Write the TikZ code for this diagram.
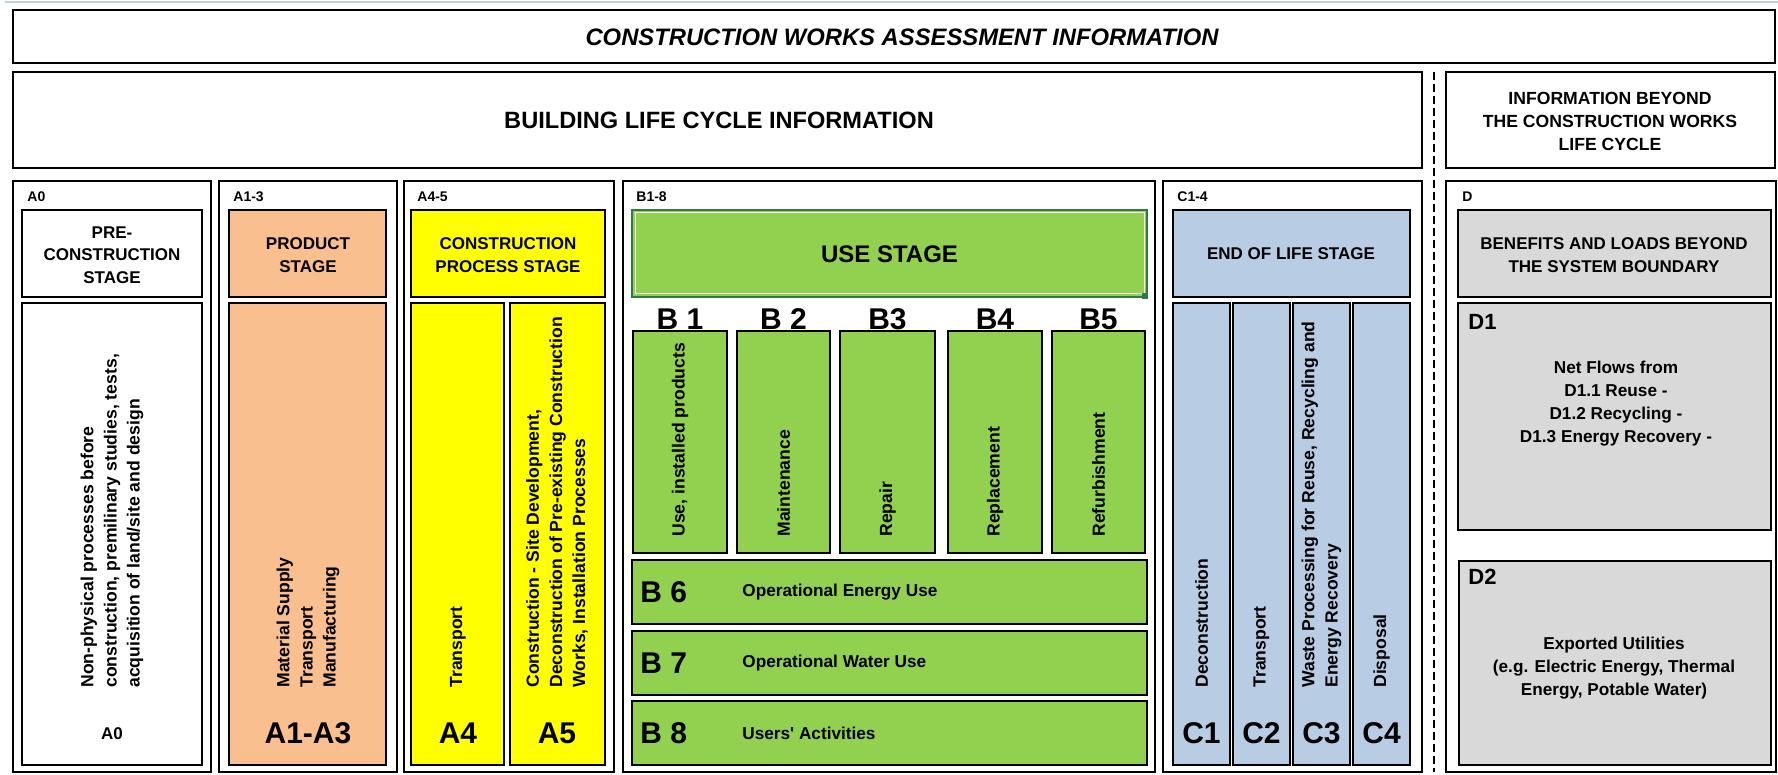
\documentclass[tikz,border=0pt]{standalone}
\usepackage{fontspec}
\setmainfont{Liberation Sans}
\definecolor{prodorange}{HTML}{FABF8F}
\definecolor{conyellow}{HTML}{FFFF00}
\definecolor{usegreen}{HTML}{92D050}
\definecolor{selgreen}{HTML}{2F7A4A}
\definecolor{eolblue}{HTML}{B8CCE4}
\definecolor{beyondgrey}{HTML}{D9D9D9}
\definecolor{topline}{HTML}{C5CEDD}
\tikzset{
  frame/.style={draw=black, line width=1pt},
  tag/.style={anchor=west, inner sep=0pt, font=\bfseries\fontsize{7}{8}\selectfont},
  head/.style={align=center, inner sep=0pt, font=\bfseries\fontsize{8.5}{11.25}\selectfont},
  vtext/.style={rotate=90, anchor=west, align=left, inner sep=0pt, font=\bfseries\fontsize{8.8}{11.6}\selectfont},
  code/.style={inner sep=0pt, font=\bfseries\fontsize{15}{18}\selectfont},
  body/.style={align=center, inner sep=0pt, font=\bfseries\fontsize{8.6}{11.5}\selectfont}
}
\begin{document}
\begin{tikzpicture}[x=0.5pt, y=-0.5pt]
  \useasboundingbox (0,0) rectangle (1778,775);
  \draw[topline, line width=1pt] (5,2) -- (1778,2);
  % outer frames
  \draw[frame] (13,10) rectangle (1775,63);
  \node[inner sep=0pt, font=\bfseries\itshape\fontsize{11.9}{13}\selectfont] (title) at (902,37) {CONSTRUCTION WORKS ASSESSMENT INFORMATION};
  \draw[frame] (13,72) rectangle (1422,168);
  \node[inner sep=0pt, font=\bfseries\fontsize{11.8}{13}\selectfont] (lifecycle) at (719,120) {BUILDING LIFE CYCLE INFORMATION};
  \draw[frame] (1446,72) rectangle (1775,168);
  \node[head, font=\bfseries\fontsize{8.8}{11.5}\selectfont] (beyond) at (1610,121) {INFORMATION BEYOND\\THE CONSTRUCTION WORKS\\LIFE CYCLE};
  \coordinate (splitTop) at (1434,72);
  \coordinate (splitBot) at (1434,772);
  \draw[dash pattern=on 4pt off 2pt, line width=0.8pt] (splitTop) -- (splitBot);
  \foreach \l/\r in {13/211, 219/397, 404/614, 623/1155, 1163/1422, 1446/1776}
    \draw[frame] (\l,181) rectangle (\r,772);
  \node[tag] (tagA0) at (27,197) {A0};
  \node[tag] (tagA13) at (233,197) {A1-3};
  \node[tag] (tagA45) at (417,197) {A4-5};
  \node[tag] (tagB) at (636,197) {B1-8};
  \node[tag] (tagC) at (1177,197) {C1-4};
  \node[tag] (tagD) at (1462,197) {D};
  % A0
  \filldraw[frame, fill=white] (22,210) rectangle (202,297);
  \node[head] (preHead) at (112,255) {PRE-\\CONSTRUCTION\\STAGE};
  \filldraw[frame, fill=white] (22,303) rectangle (202,765);
  \node[vtext] (preText) at (112,688) {Non-physical processes before\\construction, premilinary studies, tests,\\acquisition of land/site and design};
  \node[inner sep=0pt, font=\bfseries\fontsize{8.5}{10}\selectfont] (preCode) at (112,734) {A0};
  % A1-3
  \filldraw[frame, fill=prodorange] (229,210) rectangle (386,297);
  \node[head] (prodHead) at (308,255) {PRODUCT\\STAGE};
  \filldraw[frame, fill=prodorange] (229,303) rectangle (386,765);
  \node[vtext] (prodText) at (308,688) {Material Supply\\Transport\\Manufacturing};
  \node[code] (prodCode) at (308,733) {A1-A3};
  % A4-5
  \filldraw[frame, fill=conyellow] (411,210) rectangle (605,297);
  \node[head] (procHead) at (508,255) {CONSTRUCTION\\PROCESS STAGE};
  \filldraw[frame, fill=conyellow] (411,303) rectangle (504,765);
  \node[vtext] (procText4) at (458,688) {Transport};
  \node[code] (procCode4) at (458,733) {A4};
  \filldraw[frame, fill=conyellow] (510,303) rectangle (605,765);
  \node[vtext] (procText5) at (557,688) {Construction - Site Development,\\Deconstruction of Pre-existing Construction\\Works, Installation Processes};
  \node[code] (procCode5) at (557,733) {A5};
  % B1-8
  \filldraw[fill=usegreen, draw=selgreen, line width=0.8pt] (632,210) rectangle (1147,297);
  \draw[white, line width=0.5pt] (635,213) rectangle (1144,294);
  \fill[selgreen] (1142,293) rectangle (1148,299);
  \node[inner sep=0pt, font=\bfseries\fontsize{12}{14}\selectfont] (useHead) at (889.5,254) {USE STAGE};
  \foreach \l/\r/\c/\t [count=\i] in {633/727/B 1/{Use, installed products}, 737/830/B 2/Maintenance, 840/935/B3/Repair, 948/1042/B4/Replacement, 1052/1145/B5/Refurbishment}{
    \filldraw[frame, fill=usegreen] (\l,331) rectangle (\r,553);
    \node[code, anchor=base] (bcode\i) at ({(\l+\r)/2},329) {\c};
    \node[vtext] (btext\i) at ({(\l+\r)/2},537) {\t};
  }
  \foreach \t/\c/\s [count=\i from 6] in {560/B 6/Operational Energy Use, 631/B 7/Operational Water Use, 701/B 8/Users\textquotesingle{} Activities}{
    \filldraw[frame, fill=usegreen] (632,\t) rectangle (1147,\t+64);
    \node[code, anchor=west] (bcode\i) at (640,\t+32) {\c};
    \node[body, anchor=west] (btext\i) at (742,\t+32) {\s};
  }
  % C1-4
  \filldraw[frame, fill=eolblue] (1173,210) rectangle (1410,297);
  \node[head] (eolHead) at (1291,254) {END OF LIFE STAGE};
  \foreach \l/\r/\t [count=\i] in {1173/1230/Deconstruction, 1233/1290/Transport, 1293/1350/{Waste Processing for Reuse, Recycling and\\Energy Recovery}, 1353/1410/Disposal}{
    \filldraw[frame, fill=eolblue] (\l,303) rectangle (\r,765);
    \node[vtext] (ctext\i) at ({(\l+\r)/2},688) {\t};
    \node[code] (ccode\i) at ({(\l+\r)/2},733) {C\i};
  }
  % D
  \filldraw[frame, fill=beyondgrey] (1458,210) rectangle (1771,297);
  \node[head] (dHead) at (1614,255) {BENEFITS AND LOADS BEYOND\\THE SYSTEM BOUNDARY};
  \filldraw[frame, fill=beyondgrey] (1458,303) rectangle (1771,530);
  \node[inner sep=0pt, anchor=west, font=\bfseries\fontsize{11}{13}\selectfont] (d1code) at (1468,322) {D1};
  \node[body] (d1text) at (1616,404) {Net Flows from\\D1.1 Reuse -\\D1.2 Recycling -\\D1.3 Energy Recovery -};
  \filldraw[draw=black, line width=0.6pt, fill=beyondgrey] (1459,561) rectangle (1771,765);
  \node[inner sep=0pt, anchor=west, font=\bfseries\fontsize{11}{13}\selectfont] (d2code) at (1468,577) {D2};
  \node[body] (d2text) at (1614,668) {Exported Utilities\\(e.g. Electric Energy, Thermal\\Energy, Potable Water)};
\end{tikzpicture}
\end{document}
